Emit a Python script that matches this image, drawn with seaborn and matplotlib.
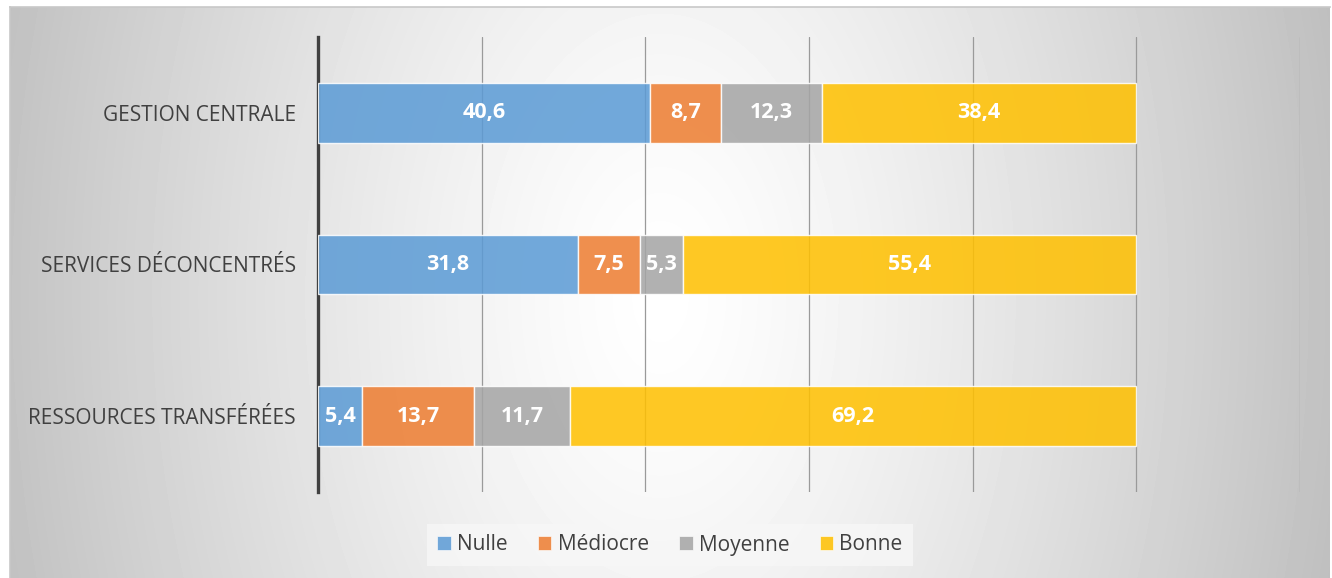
import numpy as np
import pandas as pd
import matplotlib
matplotlib.use('Agg')
import matplotlib.pyplot as plt
import seaborn as sns
from matplotlib.patches import Patch

sns.set_style("white")
plt.rcParams['font.family'] = ['Open Sans', 'DejaVu Sans']

# Données
categories = ['GESTION CENTRALE', 'SERVICES DÉCONCENTRÉS', 'RESSOURCES TRANSFÉRÉES']
series_names = ['Nulle', 'Médiocre', 'Moyenne', 'Bonne']
nulle = [40.6, 31.8, 5.4]
mediocre = [8.7, 7.5, 13.7]
moyenne = [12.3, 5.3, 11.7]
bonne = [38.4, 55.4, 69.2]
colors = ['#5B9BD5', '#ED7D31', '#A5A5A5', '#FFC000']

W, H = 1332, 578
fig = plt.figure(figsize=(W / 100, H / 100), dpi=100)

# fond dégradé radial
bg = fig.add_axes([10 / W, 0, 1320 / W, 571 / H])
yy, xx = np.mgrid[0:571, 0:1320]
r = np.sqrt(((xx - 650) / 690.0) ** 2 + ((yy - 290) / 1100.0) ** 2)
shade = np.clip(1.0 - 0.25 * r ** 1.3, 0, 1)
bg.imshow(shade, cmap='gray', vmin=0, vmax=1, aspect='auto', interpolation='bilinear')
bg.set_xticks([])
bg.set_yticks([])
for s in bg.spines.values():
    s.set_color('#c8c8c8')
    s.set_linewidth(1.2)
bg.spines['bottom'].set_visible(False)
bg.spines['right'].set_visible(False)
bg.set_zorder(0)

ax = fig.add_axes([318 / W, 86 / H, 982 / W, 455 / H])
ax.set_zorder(1)
ax.patch.set_alpha(0)

df = pd.DataFrame({'cat': categories, 'Nulle': nulle, 'Médiocre': mediocre,
                   'Moyenne': moyenne, 'Bonne': bonne})

left = np.zeros(len(categories))
for name, col in zip(series_names, colors):
    n0 = len(ax.patches)
    sns.barplot(data=df, x=name, y='cat', orient='h', color=col, saturation=1,
                width=0.395, alpha=0.86, edgecolor='white', linewidth=1.0,
                ax=ax, zorder=3)
    for i, p in enumerate(ax.patches[n0:]):
        p.set_x(left[i])
        v = df[name].iloc[i]
        ax.text(left[i] + v / 2, p.get_y() + p.get_height() / 2,
                f'{v:.1f}'.replace('.', ','), ha='center', va='center',
                color='white', fontsize=15.5, fontweight='bold', zorder=5)
    left += df[name].values

ax.set_xlim(0, 120)
ax.set_ylim(2.5, -0.5)
ax.set_xticks(np.arange(20, 121, 20))
ax.xaxis.grid(True, color='#9a9a9a', linewidth=0.9, zorder=1)
ax.set_axisbelow(True)
ax.tick_params(axis='x', labelbottom=False, length=0)
ax.tick_params(axis='y', length=0, pad=16, labelsize=15, labelcolor='#404040')
ax.set_xlabel('')
ax.set_ylabel('')
for s in ['top', 'right', 'bottom']:
    ax.spines[s].set_visible(False)
ax.spines['left'].set_color('#404040')
ax.spines['left'].set_linewidth(2.4)

handles = [Patch(facecolor=c, alpha=0.86, edgecolor='white', linewidth=0.5) for c in colors]
leg = fig.legend(handles, series_names, loc='center', bbox_to_anchor=(670 / W, 1 - 545 / H),
                 ncol=4, frameon=True, fontsize=15, handlelength=0.65, handleheight=0.65,
                 handletextpad=0.3, columnspacing=1.45, borderpad=0.5, borderaxespad=0,
                 fancybox=False)
leg.get_frame().set_facecolor('#f7f7f7')
leg.get_frame().set_edgecolor('none')
for t in leg.get_texts():
    t.set_color('#404040')

fig.savefig('out.png', dpi=100)
